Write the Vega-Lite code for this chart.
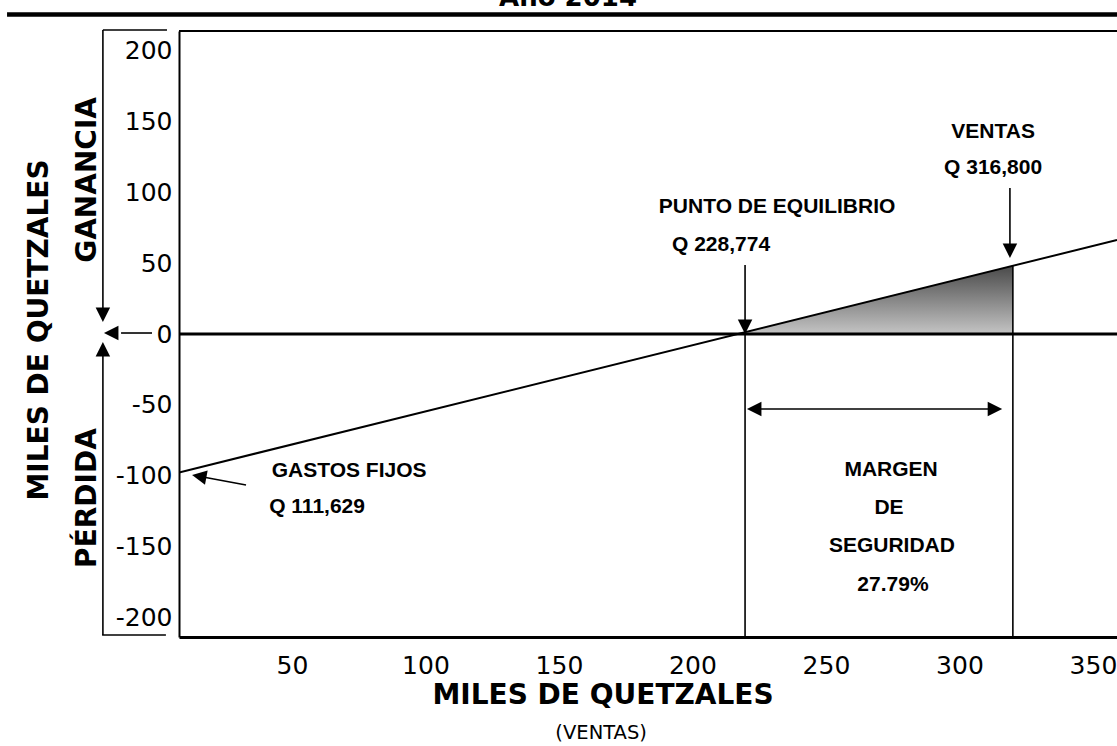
{
  "$schema": "https://vega.github.io/schema/vega-lite/v6.json",
  "autosize": {"type": "none"},
  "width": 938,
  "height": 606,
  "padding": {"left": 179, "top": 31, "right": 0, "bottom": 109},
  "background": "white",
  "config": {
    "view": {"stroke": null},
    "font": "DejaVu Sans",
    "axis": {"grid": false, "ticks": false, "title": null, "labelColor": "#000", "domainColor": "#000", "labelFont": "DejaVu Sans", "labelFontSize": 25, "labelFlush": false, "labelOverlap": false, "labelExpr": "'' + datum.value"}
  },
  "datasets": {
    "profit": [{"x": 7.7, "y": -97.5}, {"x": 359, "y": 66.2}],
    "margin": [{"x": 220, "y": 1.4}, {"x": 320, "y": 48}],
    "rules": [
      {"g": "bar", "x": -56.7, "x2": 359, "y": 225, "y2": 225},
      {"g": "border", "x": 7.7, "x2": 359, "y": 213.4, "y2": 213.4},
      {"g": "zero", "x": 7.7, "x2": 359, "y": 0, "y2": 0},
      {"g": "thin", "x": 219.7, "x2": 219.7, "y": 0, "y2": -213.4},
      {"g": "thin", "x": 320, "x2": 320, "y": 48, "y2": -213.4},
      {"g": "thin", "x": 219.7, "x2": 219.7, "y": 48.6, "y2": 5},
      {"g": "thin", "x": 318.9, "x2": 318.9, "y": 102.8, "y2": 58},
      {"g": "thin", "x": 223, "x2": 313, "y": -52.8, "y2": -52.8},
      {"g": "thin", "x": 32.8, "x2": 17.7, "y": -106.3, "y2": -101.1},
      {"g": "thin", "x": -20.8, "x2": 3.2, "y": 214.1, "y2": 214.1},
      {"g": "thin", "x": -20.8, "x2": -20.8, "y": 214.1, "y2": 14},
      {"g": "thin", "x": -2.4, "x2": -14, "y": 0.7, "y2": 0.7},
      {"g": "thin", "x": -20.8, "x2": -20.8, "y": -12, "y2": -212},
      {"g": "thin", "x": -21.1, "x2": 2.8, "y": -212, "y2": -212}
    ],
    "heads": [
      {"x": 219.7, "y": 0, "a": 0},
      {"x": 318.9, "y": 53.5, "a": 0},
      {"x": 220.4, "y": -52.8, "a": 90},
      {"x": 316.0, "y": -52.8, "a": 270},
      {"x": 12.6, "y": -99.3, "a": 100.5},
      {"x": -20.8, "y": 8.5, "a": 0},
      {"x": -20.4, "y": 0.7, "a": 90},
      {"x": -20.8, "y": -5.6, "a": 180}
    ],
    "notes": [
      {"x": 231.7, "y": 89.4, "t": "PUNTO DE EQUILIBRIO"},
      {"x": 210.7, "y": 62.7, "t": "Q 228,774"},
      {"x": 312.6, "y": 142.3, "t": "VENTAS"},
      {"x": 312.6, "y": 116.9, "t": "Q 316,800"},
      {"x": 274.4, "y": -95.8, "t": "MARGEN"},
      {"x": 273.6, "y": -122.5, "t": "DE"},
      {"x": 274.7, "y": -149.3, "t": "SEGURIDAD"},
      {"x": 275.1, "y": -176.8, "t": "27.79%"},
      {"x": 71.4, "y": -96.5, "t": "GASTOS FIJOS"},
      {"x": 59.4, "y": -121.8, "t": "Q 111,629"}
    ],
    "xtitle": [{"x": 166.5, "y": -254.9, "t": "MILES DE QUETZALES"}],
    "xsub": [{"x": 165.8, "y": -281, "t": "(VENTAS)"}],
    "ytitles": [
      {"x": -44.4, "y": 2.8, "t": "MILES  DE QUETZALES"},
      {"x": -26.4, "y": 108.5, "t": "GANANCIA"},
      {"x": -26.4, "y": -115.5, "t": "PÉRDIDA"}
    ],
    "top": [{"x": 153.4, "y": 231, "t": "Año 2014"}]
  },
  "encoding": {
    "x": {"field": "x", "type": "quantitative", "scale": {"domain": [7.7, 359], "nice": false, "zero": false},
      "axis": {"values": [50, 100, 150, 200, 250, 300, 350], "domainWidth": 3, "labelPadding": 16}},
    "y": {"field": "y", "type": "quantitative", "scale": {"domain": [-213.4, 213.4], "nice": false, "zero": false},
      "axis": {"values": [-200, -150, -100, -50, 0, 50, 100, 150, 200], "domainWidth": 2, "labelPadding": 7}}
  },
  "layer": [
    {
      "data": {"name": "margin"},
      "mark": {"type": "area", "clip": false, "color": {"gradient": "linear", "x1": 0, "y1": 0, "x2": 0, "y2": 1, "stops": [{"offset": 0, "color": "#4a4a4a"}, {"offset": 1, "color": "#c4c4c4"}]}},
      "encoding": {"y2": {"datum": 0}}
    },
    {
      "data": {"name": "profit"},
      "mark": {"type": "line", "color": "#000", "strokeWidth": 2, "clip": true},
      "encoding": {}
    },
    {
      "data": {"name": "rules"},
      "transform": [{"filter": "datum.g === 'bar'"}],
      "mark": {"type": "rule", "color": "#000", "strokeWidth": 4.5, "clip": false},
      "encoding": {"x2": {"field": "x2"}, "y2": {"field": "y2"}}
    },
    {
      "data": {"name": "rules"},
      "transform": [{"filter": "datum.g === 'border'"}],
      "mark": {"type": "rule", "color": "#000", "strokeWidth": 2, "clip": false},
      "encoding": {"x2": {"field": "x2"}, "y2": {"field": "y2"}}
    },
    {
      "data": {"name": "rules"},
      "transform": [{"filter": "datum.g === 'zero'"}],
      "mark": {"type": "rule", "color": "#000", "strokeWidth": 3, "clip": false},
      "encoding": {"x2": {"field": "x2"}, "y2": {"field": "y2"}}
    },
    {
      "data": {"name": "rules"},
      "transform": [{"filter": "datum.g === 'thin'"}],
      "mark": {"type": "rule", "color": "#000", "strokeWidth": 1.6, "clip": false},
      "encoding": {"x2": {"field": "x2"}, "y2": {"field": "y2"}}
    },
    {
      "data": {"name": "heads"},
      "mark": {"type": "point", "filled": true, "color": "#000", "opacity": 1, "strokeWidth": 0, "size": 210, "shape": "M-1,-2L1,-2L0,0Z", "clip": false},
      "encoding": {"angle": {"field": "a", "type": "quantitative", "scale": null}}
    },
    {
      "data": {"name": "notes"},
      "mark": {"type": "text", "font": "Liberation Sans", "fontWeight": "bold", "fontSize": 21, "align": "center", "baseline": "middle", "color": "#000", "clip": false},
      "encoding": {"text": {"field": "t"}}
    },
    {
      "data": {"name": "xtitle"},
      "mark": {"type": "text", "font": "DejaVu Sans", "fontWeight": "bold", "fontSize": 28, "align": "center", "baseline": "middle", "color": "#000", "clip": false},
      "encoding": {"text": {"field": "t"}}
    },
    {
      "data": {"name": "xsub"},
      "mark": {"type": "text", "font": "DejaVu Sans", "fontSize": 19.5, "align": "center", "baseline": "middle", "color": "#000", "clip": false},
      "encoding": {"text": {"field": "t"}}
    },
    {
      "data": {"name": "ytitles"},
      "mark": {"type": "text", "font": "DejaVu Sans", "fontWeight": "bold", "fontSize": 28, "angle": 270, "align": "center", "baseline": "middle", "color": "#000", "clip": false},
      "encoding": {"text": {"field": "t"}}
    },
    {
      "data": {"name": "top"},
      "mark": {"type": "text", "font": "DejaVu Sans", "fontWeight": "bold", "fontSize": 26, "align": "center", "baseline": "alphabetic", "color": "#000", "clip": false},
      "encoding": {"text": {"field": "t"}}
    }
  ]
}
